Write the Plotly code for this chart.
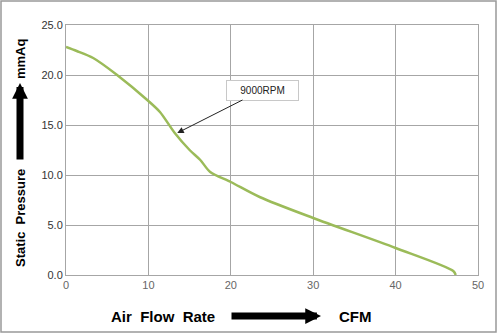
import plotly.graph_objects as go

flow_cfm = [0, 1.3, 3.3, 6.2, 10, 11.4, 13.2, 15, 16.3, 17.5, 20, 23.5, 30, 40, 47, 47.3]
pressure_mmaq = [22.8, 22.4, 21.7, 20.0, 17.4, 16.3, 14.2, 12.5, 11.5, 10.3, 9.3, 7.8, 5.7, 2.7, 0.4, 0.0]
x_ticks = [0, 10, 20, 30, 40, 50]
y_ticks = [0, 5, 10, 15, 20, 25]
y_tick_labels = ["0.0", "5.0", "10.0", "15.0", "20.0", "25.0"]
curve_label = "9000RPM"
label_point = (13.5, 14.2)

fig = go.Figure()
fig.add_trace(go.Scatter(x=flow_cfm, y=pressure_mmaq, mode="lines",
                         line=dict(color="#9bbb59", width=2.5, shape="spline", smoothing=0.8),
                         showlegend=False, hoverinfo="skip"))

gc = "#a6a6a6"
fig.update_xaxes(range=[0, 50], tickvals=x_ticks, showgrid=True, gridcolor=gc, gridwidth=1,
                 showline=True, linecolor=gc, mirror=True, zeroline=False, ticks="",
                 tickfont=dict(family="Liberation Sans", size=11, color="#666"), ticklen=0)
fig.update_yaxes(range=[0, 25], tickvals=y_ticks, ticktext=y_tick_labels, showgrid=True, gridcolor=gc,
                 gridwidth=1, showline=True, linecolor=gc, mirror=True, zeroline=False, ticks="",
                 tickfont=dict(family="Liberation Sans", size=11, color="#333"))

L, R, T, B = 66, 22, 25, 59
PW, PH = 500 - L - R, 334 - T - B
def px(x):
    return (x - L) / PW
def py(y):
    return (334 - B - y) / PH

anns = []
# curve label
anns.append(dict(x=label_point[0], y=label_point[1], xref="x", yref="y", text=curve_label,
                 showarrow=True, ax=85, ay=-43, arrowhead=2, arrowsize=1.3, arrowwidth=1, arrowcolor="#222",
                 font=dict(family="Liberation Sans", size=10, color="#222"),
                 bgcolor="white", bordercolor="#c8c8c8", borderwidth=1, width=69, height=17))
# axis titles
bold = dict(family="Liberation Sans", color="black")
ctr = dict(xref="paper", yref="paper", xanchor="center", yanchor="middle", showarrow=False)
anns.append(dict(x=px(20), y=py(218), text="<b>Static  Pressure</b>", textangle=-90,
                 font=dict(size=13, **bold), **ctr))
anns.append(dict(x=px(20), y=py(59), text="<b>mmAq</b>", textangle=-90,
                 font=dict(size=13, **bold), **ctr))
anns.append(dict(x=px(163), y=py(316), text="<b>Air  Flow  Rate</b>",
                 font=dict(size=15, **bold), **ctr))
anns.append(dict(x=px(355), y=py(316), text="<b>CFM</b>",
                 font=dict(size=15, **bold), **ctr))
# thick arrows
anns.append(dict(x=px(20), y=py(83), xref="paper", yref="paper", text="", showarrow=True,
                 axref="pixel", ayref="pixel", ax=0, ay=78, arrowhead=2, arrowsize=0.45,
                 arrowwidth=7, arrowcolor="black"))
anns.append(dict(x=px(321), y=py(316), xref="paper", yref="paper", text="", showarrow=True,
                 axref="pixel", ayref="pixel", ax=-91, ay=0, arrowhead=2, arrowsize=0.45,
                 arrowwidth=7, arrowcolor="black"))

fig.update_layout(width=500, height=334, margin=dict(l=L, r=R, t=T, b=B),
                  paper_bgcolor="white", plot_bgcolor="white", annotations=anns,
                  shapes=[dict(type="rect", xref="paper", yref="paper", x0=px(1), x1=px(496),
                               y0=py(332), y1=py(1), line=dict(color="#999", width=1.5))])
fig.write_html("out.html")
